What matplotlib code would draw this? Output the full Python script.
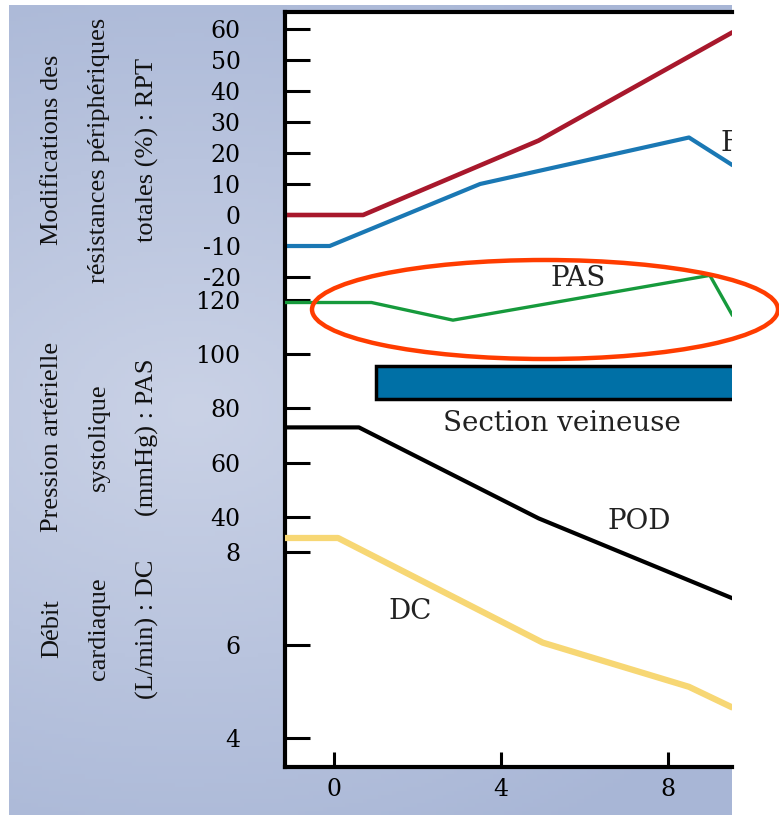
import numpy as np
import matplotlib.pyplot as plt
from matplotlib.patches import Ellipse

# Données (temps en min)
t_rpt = [-1.2, 0.7, 4.9, 9.55]
rpt = [0, 0, 24, 59]

t_fc = [-1.2, -0.1, 3.5, 8.5, 9.55]
fc = [-10, -10, 10, 25, 16]

t_pas = [-1.2, 0.9, 2.85, 9.0, 9.55]
pas = [119, 119, 112.5, 129, 114]

t_pod = [-1.2, 0.6, 4.9, 9.55]
pod = [73, 73, 39.5, 10]

t_dc = [-1.2, 0.1, 5.0, 8.5, 9.55]
dc = [8.3, 8.3, 6.05, 5.1, 4.65]

debut_section = 1.0

x_ticks = [0, 4, 8]
rpt_ticks = [-20, -10, 0, 10, 20, 30, 40, 50, 60]
pas_ticks = [40, 60, 80, 100, 120]
dc_ticks = [4, 6, 8]

plt.rcParams['font.family'] = ['DejaVu Serif']
plt.rcParams['axes.unicode_minus'] = False

W, H = 779, 815
fig = plt.figure(figsize=(W / 100, H / 100), dpi=100)
fig.patch.set_facecolor('white')


def px_box(x0, y0, x1, y1):
    return [x0 / W, 1 - y1 / H, (x1 - x0) / W, (y1 - y0) / H]


# fond bleuté en dégradé
bg = fig.add_axes(px_box(9, 5, 732, 815))
yy, xx = np.mgrid[0:1:200j, 0:1:200j]
r = np.clip(np.sqrt(((xx - 0.25) / 0.95) ** 2 + ((yy - 0.5) / 0.62) ** 2), 0, 1)
clair = np.array([202, 210, 230]) / 255
fonce = np.array([168, 182, 214]) / 255
img = clair * (1 - r[..., None]) + fonce * r[..., None]
bg.imshow(img, extent=[0, 1, 0, 1], aspect='auto')
bg.axis('off')

# trois axes superposés, une échelle par grandeur
box = px_box(285, 12, 732, 767)
ax = fig.add_axes(box, facecolor='white')
ax_pas = fig.add_axes(box, facecolor='none')
ax_dc = fig.add_axes(box, facecolor='none')

for a in (ax, ax_pas, ax_dc):
    a.set_xlim(-1.17, 9.53)
ax.set_ylim(-178.06, 65.48)
ax_pas.set_ylim(-52.08, 226.0)
ax_dc.set_ylim(3.376, 19.61)

ax.spines['right'].set_visible(False)
for s in ('left', 'top', 'bottom'):
    ax.spines[s].set_linewidth(3)
for a in (ax_pas, ax_dc):
    for s in a.spines.values():
        s.set_visible(False)
    a.tick_params(axis='x', bottom=False, labelbottom=False)

ax.set_xticks(x_ticks)
ax.tick_params(axis='x', direction='in', length=11, width=2.2, pad=8, labelsize=17)
for a, ticks in ((ax, rpt_ticks), (ax_pas, pas_ticks), (ax_dc, dc_ticks)):
    a.set_yticks(ticks)
    a.tick_params(axis='y', direction='in', length=18, width=2.2, pad=32, labelsize=17)

# courbes
ax.plot(t_rpt, rpt, color='#a8182c', lw=3.3, solid_capstyle='butt')
ax.plot(t_fc, fc, color='#1a78b4', lw=3, solid_capstyle='butt')
ax_pas.plot(t_pas, pas, color='#169a3c', lw=2.4, solid_capstyle='butt')
ax_pas.plot(t_pod, pod, color='black', lw=3, solid_capstyle='butt')
ax_dc.plot(t_dc, dc, color='#f7d774', lw=4.5, solid_capstyle='butt')

# section veineuse
ax_pas.barh(89.5, 12 - debut_section, left=debut_section, height=12,
            color='#0070a6', edgecolor='black', lw=2.5)
ax_pas.text(5.46, 0.4556, 'Section veineuse', transform=ax_pas.get_xaxis_transform(),
            ha='center', va='center', fontsize=20, color='#222222')

ax_pas.text(5.84, 128, 'PAS', ha='center', va='center', fontsize=20, color='#222222')
ax_pas.text(7.3, 38.5, 'POD', ha='center', va='center', fontsize=20, color='#222222')
ax_dc.text(1.82, 6.71, 'DC', ha='center', va='center', fontsize=20, color='#222222')
ax.text(9.25, 23.2, 'FC', ha='left', va='center', fontsize=20, color='#222222', clip_on=True)

# titres des axes
lab = dict(rotation=90, ha='center', va='center', multialignment='center',
           family='Liberation Serif', fontsize=19, linespacing=2.45, color='#111111')
fig.text(100 / W, 1 - 150 / H, 'Modifications des\nrésistances périphériques\ntotales (%) : RPT', **lab)
fig.text(100 / W, 1 - 437 / H, 'Pression artérielle\nsystolique\n(mmHg) : PAS', **lab)
fig.text(100 / W, 1 - 629 / H, 'Débit\ncardiaque\n(L/min) : DC', **lab)

# ellipse rouge autour de la PAS
fig.add_artist(Ellipse((545 / W, 1 - 309.5 / H), 466 / W, 99 / H, transform=fig.transFigure,
                       fill=False, edgecolor='#ff3c00', lw=3.2))

fig.savefig('out.png', dpi=100)
